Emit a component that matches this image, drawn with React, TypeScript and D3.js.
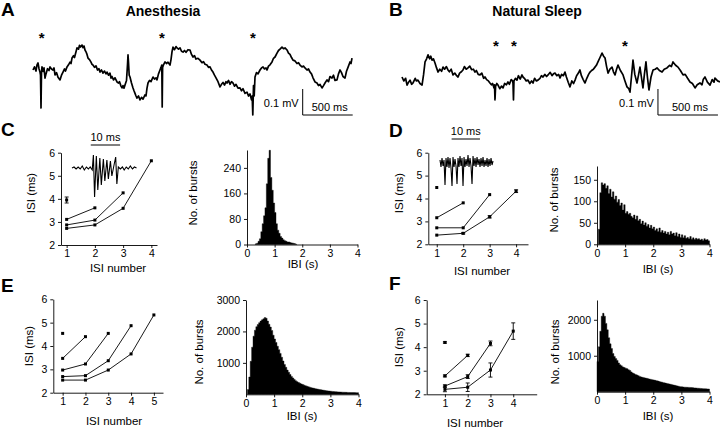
import React, { useEffect, useRef } from 'react';
import * as d3 from 'd3';

const FONT = '"Liberation Sans", Arial, Helvetica, sans-serif';

// Raw membrane traces: [time (ms), potential (µV)]
const traceA: [number, number][] = [
  [0, 0], [15, 12], [30, -4], [40, 20], [50, 27], [60, 5], [70, -8], [75, -20], [80, -146], [85, -10],
  [90, 12], [100, -5], [110, 8], [120, -31], [130, -15], [145, 5], [160, -2], [170, 12], [185, 4], [200, 0],
  [210, 8], [220, -19], [235, -10], [250, -28], [270, -38], [285, -20], [300, -8], [315, 4], [325, -4], [340, 12],
  [355, 20], [370, 30], [380, 25], [390, 46], [405, 55], [415, 48], [430, 70], [440, 85], [455, 80], [465, 95],
  [475, 88], [490, 96], [500, 86], [510, 92], [520, 77], [530, 70], [540, 60], [550, 46], [565, 40], [580, 30],
  [590, 22], [600, 19], [615, 10], [630, 16], [645, 0], [660, 5], [670, -8], [685, 0], [700, -12], [715, -4],
  [730, -15], [740, -8], [755, -20], [770, -12], [780, -31], [790, -25], [805, -38], [820, -30], [840, -46], [855, -50],
  [865, -45], [880, -62], [890, -69], [900, -60], [910, -70], [920, -58], [935, -40], [945, 20], [950, 58], [955, 30],
  [962, -20], [970, -27], [985, -50], [1000, -69], [1010, -80], [1020, -90], [1030, -100], [1040, -108], [1055, -100], [1070, -115],
  [1085, -105], [1100, -112], [1120, -96], [1130, -100], [1140, -70], [1150, -50], [1165, -40], [1180, -45], [1200, -27], [1215, -35],
  [1230, -30], [1240, -38], [1255, -15], [1270, 0], [1280, 10], [1288, 19], [1292, -142], [1296, 10], [1305, 20], [1320, 31],
  [1335, 25], [1350, 30], [1370, 19], [1380, 40], [1390, 70], [1400, 88], [1415, 78], [1430, 90], [1440, 85], [1455, 80],
  [1470, 85], [1485, 72], [1500, 69], [1515, 75], [1530, 68], [1550, 78], [1570, 77], [1585, 60], [1600, 50], [1615, 55],
  [1630, 42], [1650, 45], [1670, 38], [1690, 28], [1705, 32], [1720, 22], [1740, 19], [1755, 10], [1770, 12], [1785, 0],
  [1800, -8], [1815, -20], [1830, -30], [1850, -45], [1870, -65], [1885, -55], [1900, -48], [1915, -58], [1930, -45], [1940, -50],
  [1955, -40], [1970, -55], [1985, -45], [2000, -50], [2015, -62], [2030, -55], [2050, -70], [2070, -69], [2085, -80], [2100, -72],
  [2120, -90], [2140, -85], [2155, -100], [2170, -92], [2185, -115], [2192, -100], [2198, -173], [2205, -60], [2212, -100], [2220, -27],
  [2235, -10], [2250, -15], [2270, 0], [2285, 8], [2300, 12], [2315, 4], [2330, 8], [2340, 0], [2355, 15], [2370, 20],
  [2390, 31], [2405, 45], [2420, 50], [2440, 65], [2455, 75], [2470, 80], [2490, 88], [2505, 82], [2520, 85], [2540, 77],
  [2555, 65], [2570, 60], [2585, 48], [2600, 38], [2620, 35], [2640, 25], [2655, 28], [2670, 19], [2690, 12], [2705, 15],
  [2720, 8], [2740, 0], [2755, 4], [2770, -8], [2785, -15], [2800, -30], [2820, -46], [2840, -50], [2855, -60], [2870, -55],
  [2890, -69], [2905, -60], [2920, -50], [2940, -38], [2955, -45], [2970, -25], [2990, -31], [3005, -20], [3020, -40], [3040, -38],
  [3055, -15], [3070, 0], [3085, -10], [3100, -25], [3120, -31], [3135, -5], [3150, 10], [3170, 31], [3180, 25], [3190, 46],
];
const starsA = [87, 1290, 2200];

const traceB: [number, number][] = [
  [0, 0], [15, -15], [30, -5], [42, -31], [55, -20], [67, -12], [80, -28], [92, -23], [110, -5], [120, -15],
  [133, -12], [150, -25], [167, -31], [180, 10], [192, 58], [205, 70], [217, 85], [230, 70], [240, 80], [250, 65],
  [262, 70], [275, 54], [288, 35], [300, 19], [315, 30], [330, 22], [342, 38], [355, 30], [370, 40], [383, 27],
  [395, 20], [410, 30], [425, 8], [440, 15], [455, 5], [467, 0], [480, 15], [495, 20], [508, 27], [520, 40],
  [535, 30], [550, 35], [565, 42], [580, 28], [595, 30], [608, 19], [620, 25], [635, 10], [650, 8], [665, 15],
  [680, -5], [692, 0], [705, -10], [720, -15], [733, -23], [745, -30], [755, -25], [767, -42], [771, -30], [775, -88],
  [780, -35], [790, -25], [800, -31], [815, -45], [830, -35], [842, -42], [855, -25], [870, -30], [883, -19], [895, -28],
  [910, -10], [922, -15], [925, -25], [929, -88], [933, -15], [945, -5], [958, -12], [970, 5], [985, -8], [1000, 8],
  [1008, 0], [1020, -5], [1035, -15], [1050, -12], [1065, -25], [1080, -15], [1092, -23], [1105, -5], [1120, -15], [1133, -12],
  [1150, -5], [1162, 5], [1175, 0], [1190, 10], [1205, 2], [1217, 8], [1235, 18], [1250, 5], [1262, 12], [1275, 15],
  [1290, 5], [1305, 10], [1317, -4], [1330, 10], [1345, 5], [1358, 19], [1370, 0], [1385, -20], [1400, -38], [1415, -15],
  [1430, -25], [1442, -12], [1455, 5], [1470, 15], [1483, 27], [1495, 5], [1510, -10], [1525, -23], [1540, -5], [1555, 10],
  [1567, 19], [1580, 25], [1595, 30], [1608, 38], [1620, 45], [1633, 58], [1650, 75], [1667, 92], [1680, 80], [1692, 73],
  [1705, 40], [1717, 15], [1733, 30], [1750, 38], [1762, 20], [1775, 8], [1788, 30], [1800, 46], [1820, 25], [1842, 8],
  [1858, -15], [1875, -38], [1890, -45], [1900, -58], [1912, 0], [1925, 65], [1940, 10], [1958, -23], [1970, 5], [1983, 38],
  [1995, 0], [2008, -42], [2020, 10], [2033, 58], [2045, 0], [2058, -50], [2075, 0], [2092, 27], [2110, 30], [2125, 35],
  [2145, 25], [2167, 19], [2185, 30], [2208, 35], [2230, 45], [2245, 40], [2258, 58], [2280, 45], [2300, 38], [2320, 25],
  [2342, 8], [2360, 10], [2380, -5], [2400, -19], [2420, -25], [2442, -42], [2460, -30], [2483, -23], [2500, -30], [2510, -10],
  [2525, 0], [2545, -20], [2567, -31], [2585, -10], [2600, -20], [2608, -4], [2630, -15], [2650, -19],
];
const starsB = [783, 933, 1858];

// Burst insets: [time (ms), amplitude (a.u.)]
const insetC: [number, number][] = [
  [0, 0], [0.7, 1], [1.4, -1], [2.1, 1], [2.8, -1], [3.5, 2], [4.2, -2], [4.9, 1], [5.6, -1], [6.2, 1],
  [6.9, -2], [7.3, 13], [7.7, -29], [8.3, 12], [8.8, -22], [9.5, 10], [10.0, -17], [10.7, 9], [11.2, -13], [11.9, 8],
  [12.4, -11], [13.1, 7], [13.6, -8], [14.2, 1], [14.9, 11], [15.3, -16], [15.8, 1], [16.5, -1], [17.2, 1], [17.8, -2],
  [18.5, 1], [19.2, -1], [19.9, 2], [20.6, -1], [21.3, 1], [22.0, 0],
];
const insetDStep = 0.353; // ms per sample
const insetD = [
  3, -4, 5, -3, 3, -22, 5, -4, 6, -5, 5, -5, -23, 6, -4, 4, -3, -21, 5, -4,
  7, -3, 5, -23, 6, -4, 4, -3, 8, -4, 5, -3, -21, 7, -3, 5, -4, 6, -2, 4,
  -4, 5, -3, 6, -4, 3, -3, 5, -4, 4, -3, 5, -2, 2,
];

// ISI (ms) vs ISI number; one array per burst length, starting at ISI 1
const isiC = [[3.95], [3.11, 3.61], [2.87, 3.08, 4.26], [2.72, 2.87, 3.59, 5.65]];
const isiCErr = [[0.13], [0, 0], [0, 0, 0], [0, 0, 0, 0]];
const isiD = [[4.48], [3.16, 3.81], [2.72, 2.72, 4.17], [2.4, 2.48, 3.2, 4.32]];
const isiDErr = [[0], [0, 0], [0, 0, 0], [0, 0.03, 0.05, 0.06]];
const isiE = [[4.54], [3.47, 4.4], [2.97, 3.23, 4.54], [2.69, 2.73, 3.37, 4.87], [2.54, 2.54, 2.97, 3.66, 5.33]];
const isiEErr = [[0], [0, 0], [0, 0, 0], [0, 0, 0, 0], [0, 0, 0, 0, 0]];
const isiF = [[4.2], [2.78, 3.65], [2.35, 2.75, 4.16], [2.21, 2.3, 3.03, 4.68]];
const isiFErr = [[0.03], [0.04, 0.05], [0.05, 0.08, 0.1], [0.1, 0.18, 0.3, 0.35]];

// Inter-burst interval histograms, 0.05 s bins
const ibiBin = 0.05;
const ibiCStart = 0.3;
const ibiC = [2, 4, 10, 18, 40, 65, 90, 115, 190, 270, 295, 210, 170, 130, 100, 65, 45, 35, 25, 20, 15, 12, 10, 8, 8, 6, 5, 4, 3, 1];
const ibiDStart = 0.05;
const ibiD = [
  35, 120, 143, 138, 141, 130, 136, 118, 128, 110, 122, 105, 112, 98, 104, 90, 96, 80, 92, 72,
  76, 70, 72, 65, 62, 68, 58, 66, 55, 58, 48, 54, 45, 50, 42, 46, 38, 44, 36, 40,
  32, 36, 30, 38, 28, 32, 26, 30, 24, 28, 22, 30, 24, 26, 20, 27, 18, 24, 16, 22,
  15, 20, 14, 16, 13, 18, 12, 15, 11, 14, 12, 13, 10, 12, 9, 13, 10, 11, 8,
];
const ibiEStart = 0.05;
const ibiE = [
  150, 550, 1050, 1500, 1850, 2040, 2150, 2220, 2280, 2330, 2370, 2400, 2440, 2420, 2330, 2230, 2140, 2030, 1880, 1760,
  1650, 1530, 1420, 1300, 1180, 1060, 950, 860, 770, 700, 630, 570, 520, 470, 430, 400, 375, 350, 330, 310,
  290, 270, 255, 240, 225, 212, 200, 190, 180, 170, 160, 150, 142, 135, 128, 120, 113, 107, 102, 97,
  92, 88, 84, 80, 77, 74, 71, 68, 66, 64, 62, 60, 58, 57, 56, 55, 54, 53, 52,
];
const ibiFStart = 0;
const ibiF = [
  840, 1250, 1680, 2100, 2180, 2100, 1900, 1720, 1500, 1330, 1200, 1060, 980, 920, 870, 800, 750, 720, 690, 670,
  655, 640, 610, 590, 550, 520, 500, 480, 465, 445, 425, 410, 400, 390, 380, 372, 360, 350, 342, 332,
  325, 315, 305, 295, 282, 272, 262, 252, 242, 232, 224, 214, 205, 195, 186, 176, 166, 157, 148, 140,
  135, 130, 127, 124, 122, 120, 118, 114, 110, 106, 102, 98, 95, 92, 88, 85, 82, 79, 76, 74,
];
const ibiTicks = [0, 1, 2, 3, 4];

type Sel = d3.Selection<SVGGElement, unknown, null, undefined>;

const label = (g: Sel, x: number, y: number, s: string, size: number, opts: { anchor?: string; weight?: string; rotate?: boolean } = {}) => {
  g.append('text')
    .attr('transform', `translate(${x},${y})${opts.rotate ? ' rotate(-90)' : ''}`)
    .attr('text-anchor', opts.anchor ?? 'middle')
    .attr('font-family', FONT)
    .attr('font-size', size)
    .attr('font-weight', opts.weight ?? 'normal')
    .attr('fill', '#000')
    .text(s);
};

const styleAxis = (a: Sel) => {
  a.attr('font-family', FONT).attr('font-size', 10.5);
  a.select('.domain').attr('stroke', '#000').attr('stroke-width', 0.9);
  a.selectAll('.tick line').attr('stroke', '#000').attr('stroke-width', 0.9);
  a.selectAll('.tick text').attr('fill', '#000');
};

interface Frame {
  left: number;
  right: number;
  top: number;
  bottom: number;
}

const drawTrace = (g: Sel, data: [number, number][], stars: number[], left: number, right: number, tMax: number, zeroY: number, pxPer100uV: number, starY: number, bar: { t: number; bottom: number }) => {
  const x = d3.scaleLinear().domain([0, tMax]).range([left, right]);
  const y = d3.scaleLinear().domain([0, 100]).range([zeroY, zeroY - pxPer100uV]);
  const line = d3.line<[number, number]>().x((d) => x(d[0])).y((d) => y(d[1]));
  g.append('path').attr('d', line(data)).attr('fill', 'none').attr('stroke', '#000').attr('stroke-width', 1.7).attr('stroke-linejoin', 'round');
  stars.forEach((t) => label(g, x(t), starY, '*', 15, { weight: 'bold' }));
  // scale bar: 0.1 mV vertical, 500 ms horizontal
  const bx = x(bar.t);
  const len = x(500) - x(0);
  const h = y(0) - y(100);
  g.append('path')
    .attr('d', `M${bx},${bar.bottom - h}V${bar.bottom}H${bx + len}`)
    .attr('fill', 'none').attr('stroke', '#000').attr('stroke-width', 1);
  label(g, bx - 4, bar.bottom - 8, '0.1 mV', 11, { anchor: 'end' });
  label(g, bx + len / 2 + 2, bar.bottom - 4, '500 ms', 11);
};

const drawIsi = (g: Sel, series: number[][], errs: number[][], xDomain: [number, number], xTicks: number[], f: Frame) => {
  const x = d3.scaleLinear().domain(xDomain).range([f.left, f.right]);
  const y = d3.scaleLinear().domain([2, 6]).range([f.bottom, f.top]);
  series.forEach((s, i) => {
    const pts = s.map((v, j) => [x(j + 1), y(v)] as [number, number]);
    if (pts.length > 1) {
      g.append('path').attr('d', d3.line()(pts)).attr('fill', 'none').attr('stroke', '#000').attr('stroke-width', 0.9);
    }
    s.forEach((v, j) => {
      const e = errs[i][j];
      const cx = x(j + 1);
      if (e > 0) {
        const y1 = y(v - e);
        const y2 = y(v + e);
        g.append('path')
          .attr('d', `M${cx},${y1}V${y2}M${cx - 2},${y1}H${cx + 2}M${cx - 2},${y2}H${cx + 2}`)
          .attr('stroke', '#000').attr('stroke-width', 0.9).attr('fill', 'none');
      }
      g.append('rect').attr('x', cx - 1.5).attr('y', y(v) - 1.5).attr('width', 3).attr('height', 3).attr('fill', '#000');
    });
  });
  const xa = g.append('g').attr('transform', `translate(0,${f.bottom})`)
    .call(d3.axisBottom(x).tickValues(xTicks).tickFormat(d3.format('d')).tickSize(3).tickSizeOuter(0).tickPadding(2));
  styleAxis(xa);
  const ya = g.append('g').attr('transform', `translate(${f.left},0)`)
    .call(d3.axisLeft(y).tickValues([2, 3, 4, 5, 6]).tickFormat(d3.format('d')).tickSize(3).tickSizeOuter(0).tickPadding(3));
  styleAxis(ya);
};

const drawHist = (g: Sel, counts: number[], start: number, yMax: number, yTicks: number[], f: Frame) => {
  const x = d3.scaleLinear().domain([0, 4]).range([f.left, f.right]);
  const y = d3.scaleLinear().domain([0, yMax]).range([f.bottom, f.top]);
  // solid step outline of the histogram
  const steps: [number, number][] = counts.map((c, i) => [start + i * ibiBin, c]);
  steps.push([start + counts.length * ibiBin, counts[counts.length - 1]]);
  const area = d3.area<[number, number]>()
    .x((d) => x(d[0]))
    .y0(y(0))
    .y1((d) => y(d[1]))
    .curve(d3.curveStepAfter);
  g.append('path').attr('d', area(steps)).attr('fill', '#000').attr('stroke', '#000').attr('stroke-width', 0.4);
  const xa = g.append('g').attr('transform', `translate(0,${f.bottom})`)
    .call(d3.axisBottom(x).tickValues(ibiTicks).tickFormat(d3.format('d')).tickSize(3).tickSizeOuter(0).tickPadding(2));
  styleAxis(xa);
  const ya = g.append('g').attr('transform', `translate(${f.left},0)`)
    .call(d3.axisLeft(y).tickValues(yTicks).tickFormat(d3.format('d')).tickSize(3).tickSizeOuter(0).tickPadding(3));
  styleAxis(ya);
};

const drawInset = (g: Sel, pts: [number, number][], x: d3.ScaleLinear<number, number>, y: d3.ScaleLinear<number, number>, bar: [number, number], barY: number) => {
  const line = d3.line<[number, number]>().x((d) => x(d[0])).y((d) => y(d[1]));
  g.append('path').attr('d', line(pts)).attr('fill', 'none').attr('stroke', '#000').attr('stroke-width', 1.1);
  g.append('line').attr('x1', x(bar[0])).attr('x2', x(bar[1])).attr('y1', barY).attr('y2', barY).attr('stroke', '#000').attr('stroke-width', 1);
  label(g, (x(bar[0]) + x(bar[1])) / 2, barY - 4, '10 ms', 11);
};

const App: React.FC = () => {
  const svgRef = useRef<SVGSVGElement>(null);

  useEffect(() => {
    if (!svgRef.current) return;
    const svg = d3.select(svgRef.current);
    svg.selectAll('*').remove();
    const root = svg.append('g') as unknown as Sel;

    // Panel letters and titles
    label(root, 1, 16, 'A', 19, { anchor: 'start', weight: 'bold' });
    label(root, 389, 16, 'B', 19, { anchor: 'start', weight: 'bold' });
    label(root, 1, 136, 'C', 19, { anchor: 'start', weight: 'bold' });
    label(root, 389, 137, 'D', 19, { anchor: 'start', weight: 'bold' });
    label(root, 1, 292, 'E', 19, { anchor: 'start', weight: 'bold' });
    label(root, 389, 290, 'F', 19, { anchor: 'start', weight: 'bold' });
    label(root, 163, 16, 'Anesthesia', 14, { weight: 'bold' });
    label(root, 537, 16, 'Natural Sleep', 14, { weight: 'bold' });

    // A and B traces
    drawTrace(root, traceA, starsA, 33, 352, 3190, 70, 26, 43, { t: 2697, bottom: 115 });
    drawTrace(root, traceB, starsB, 402, 720, 2650, 77, 26, 51, { t: 2133, bottom: 115 });

    // C
    drawIsi(root, isiC, isiCErr, [0.8, 4.2], [1, 2, 3, 4], { left: 61, right: 157, top: 152.7, bottom: 245 });
    label(root, 118, 272, 'ISI number', 11.5);
    label(root, 35, 193, 'ISI (ms)', 11.5, { rotate: true });
    drawInset(root, insetC,
      d3.scaleLinear().domain([0, 22]).range([72, 136.5]),
      d3.scaleLinear().domain([0, 10]).range([168, 158]),
      [6.4, 16.4], 145);
    drawHist(root, ibiC, ibiCStart, 296, [0, 80, 160, 240], { left: 247, right: 357.5, top: 150, bottom: 244.5 });
    label(root, 303, 268, 'IBI (s)', 11.5);
    label(root, 197, 193, 'No. of bursts', 11.5, { rotate: true });

    // D
    drawIsi(root, isiD, isiDErr, [0.68, 4.45], [1, 2, 3, 4], { left: 428.3, right: 528, top: 152.7, bottom: 244.3 });
    label(root, 482, 275, 'ISI number', 11.5);
    label(root, 403, 193, 'ISI (ms)', 11.5, { rotate: true });
    drawInset(root, insetD.map((v, i) => [i * insetDStep, v] as [number, number]),
      d3.scaleLinear().domain([0, 18.7]).range([440, 493]),
      d3.scaleLinear().domain([0, 10]).range([163, 153]),
      [4.1, 14.1], 139);
    drawHist(root, ibiD, ibiDStart, 182, [0, 50, 100, 150], { left: 597, right: 709.5, top: 166, bottom: 244.3 });
    label(root, 658, 273, 'IBI (s)', 11.5);
    label(root, 558, 200, 'No. of bursts', 11.5, { rotate: true });

    // E
    drawIsi(root, isiE, isiEErr, [0.59, 5.4], [1, 2, 3, 4, 5], { left: 53.3, right: 163, top: 299.3, bottom: 392.7 });
    label(root, 114, 425, 'ISI number', 11.5);
    label(root, 33, 346, 'ISI (ms)', 11.5, { rotate: true });
    drawHist(root, ibiE, ibiEStart, 3000, [1000, 2000, 3000], { left: 246, right: 358.5, top: 300, bottom: 394.3 });
    label(root, 302, 420, 'IBI (s)', 11.5);
    label(root, 203, 352, 'No. of bursts', 11.5, { rotate: true });

    // F
    drawIsi(root, isiF, isiFErr, [0.2, 5.03], [1, 2, 3, 4], { left: 426.7, right: 536.7, top: 300, bottom: 394.3 });
    label(root, 475, 427, 'ISI number', 11.5);
    label(root, 403, 347, 'ISI (ms)', 11.5, { rotate: true });
    drawHist(root, ibiF, ibiFStart, 2550, [1000, 2000], { left: 597, right: 709.5, top: 300, bottom: 391.7 });
    label(root, 658, 420, 'IBI (s)', 11.5);
    label(root, 559, 352, 'No. of bursts', 11.5, { rotate: true });
  }, []);

  return (
    <svg
      ref={svgRef}
      width={720}
      height={429}
      style={{ position: 'absolute', left: 0, top: 0, background: '#fff' }}
    />
  );
};

export default App;
